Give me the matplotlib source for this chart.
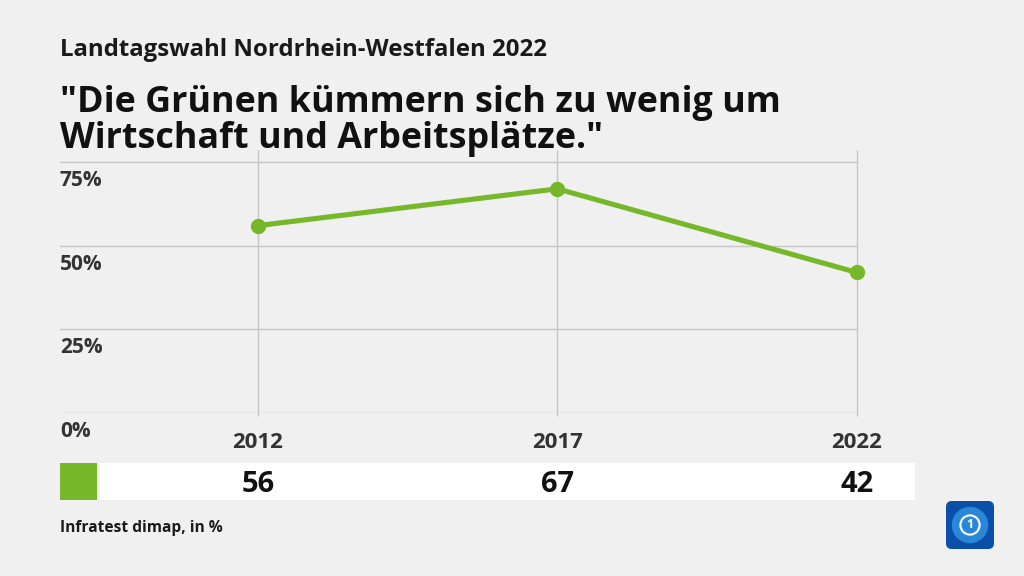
import matplotlib
matplotlib.use("Agg")
import matplotlib.pyplot as plt
from matplotlib.patches import Rectangle, FancyBboxPatch, Circle
from matplotlib.transforms import blended_transform_factory, offset_copy

years = [2012, 2017, 2022]
values = [56, 67, 42]
year_labels = ["2012", "2017", "2022"]
value_labels = ["56", "67", "42"]
y_ticks = [0, 25, 50, 75]
y_tick_labels = ["0%", "25%", "50%", "75%"]
subtitle = "Landtagswahl Nordrhein-Westfalen 2022"
title = "\"Die Grünen kümmern sich zu wenig um\nWirtschaft und Arbeitsplätze.\""
source = "Infratest dimap, in %"

W, H = 1024, 576
BG = "#f0f0f0"
GREEN = "#76b82a"
FONT = ["Open Sans", "DejaVu Sans"]
plt.rcParams["font.family"] = FONT

fig = plt.figure(figsize=(W / 100, H / 100), dpi=100, facecolor=BG)

def px(x, y):
    return x / W, 1 - y / H

# background shapes (drawn below everything)
fig.patches.append(Rectangle(px(100, 500), (915 - 100) / W, 37 / H,
                             transform=fig.transFigure, facecolor="white",
                             edgecolor="none", zorder=-5))
fig.patches.append(Rectangle(px(60, 500), 37 / W, 37 / H,
                             transform=fig.transFigure, facecolor=GREEN,
                             edgecolor="none", zorder=-5))

# axes area
ax_l, ax_r, ax_t, ax_b = 60, 858, 150, 413
ax = fig.add_axes([ax_l / W, 1 - ax_b / H, (ax_r - ax_l) / W, (ax_b - ax_t) / H])
ax.set_facecolor("none")
ax.set_xlim(2008.695, 2022.02)
ax.set_ylim(0, 78.6)
for s in ax.spines.values():
    s.set_visible(False)
ax.set_xticks([])
ax.set_yticks([])

grid_c = "#c6c6c6"
for yt in y_ticks:
    ax.axhline(yt, color=grid_c, lw=1, zorder=1)
ax.vlines(years, -1.0, 78.6, color=grid_c, lw=1, zorder=1, clip_on=False)

ax.plot(years, values, color=GREEN, lw=3.7, marker="o", ms=10, zorder=3,
        solid_capstyle="round", clip_on=False)

# y tick labels below their gridlines
tr = blended_transform_factory(ax.transAxes, ax.transData)
tr_off = offset_copy(tr, fig=fig, x=0, y=-8, units="dots")
for yt, lab in zip(y_ticks, y_tick_labels):
    ax.text(0, yt, lab, transform=tr_off, ha="left", va="top",
            fontsize=15, fontweight="bold", color="#333333")

# year labels
trx = blended_transform_factory(ax.transData, fig.transFigure)
for yr, lab in zip(years, year_labels):
    ax.text(yr, 1 - 442 / H, lab, transform=trx, ha="center", va="center",
            fontsize=16, fontweight="bold", color="#333333", clip_on=False)

# value labels
for yr, lab in zip(years, value_labels):
    ax.text(yr, 1 - 484 / H, lab, transform=trx, ha="center", va="center",
            fontsize=21, fontweight="bold", color="#111111", clip_on=False)

# titles
fig.text(60 / W, 1 - 50 / H, subtitle, ha="left", va="center",
         fontsize=17.3, fontweight="bold", color="#1a1a1a")
fig.text(60 / W, 1 - 121 / H, title, ha="left", va="center",
         fontsize=25.8, fontweight="bold", color="#111111", linespacing=1.0)

# source
fig.text(60 / W, 1 - 528 / H, source, ha="left", va="center",
         fontsize=11.2, fontweight="bold", color="#1a1a1a")

# logo
lax = fig.add_axes([946 / W, 1 - 549 / H, 48 / W, 48 / H])
lax.set_xlim(0, 1)
lax.set_ylim(0, 1)
lax.axis("off")
lax.add_patch(FancyBboxPatch((0, 0), 1, 1, boxstyle="round,pad=0,rounding_size=0.12",
                             facecolor="#0a4fa8", edgecolor="none"))
lax.add_patch(Circle((0.5, 0.5), 0.38, facecolor="#2a86d8", edgecolor="none"))
lax.add_patch(Circle((0.5, 0.5), 0.2, facecolor="none", edgecolor="white", lw=1.5))
lax.text(0.5, 0.5, "1", ha="center", va="center", color="white",
         fontsize=9, fontweight="bold")

fig.savefig("out.png", dpi=100, facecolor=BG)
